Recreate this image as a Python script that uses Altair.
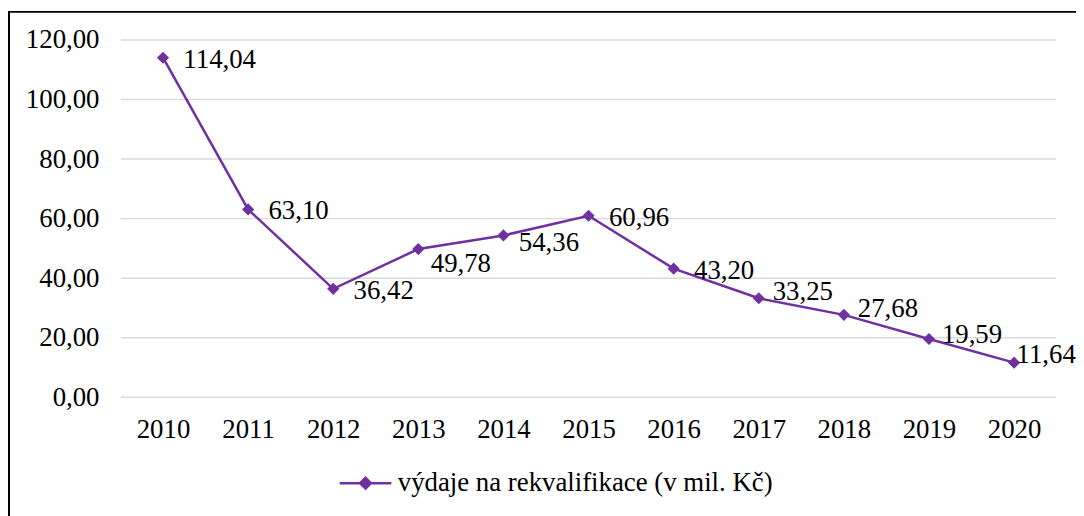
import altair as alt
import pandas as pd

# ---- data ----
years = [2010, 2011, 2012, 2013, 2014, 2015, 2016, 2017, 2018, 2019, 2020]
values = [114.04, 63.10, 36.42, 49.78, 54.36, 60.96, 43.20, 33.25, 27.68, 19.59, 11.64]
series_name = "výdaje na rekvalifikace (v mil. Kč)"
y_ticks = [0, 20, 40, 60, 80, 100, 120]

# ---- style ----
FONT = "Liberation Serif"
FS = 27
PURPLE = "#7030A0"
GRID = "#D9D9D9"

df = pd.DataFrame({"year": years, "value": values, "series": [series_name] * len(years)})
grid_df = pd.DataFrame({"tick": y_ticks})
frame_df = pd.DataFrame({"k": [0]})

x_scale = alt.Scale(domain=[2009.5, 2020.5], range=[113.3, 1056.5], nice=False, zero=False)
y_scale = alt.Scale(domain=[0, 120], range=[390.3, 30.3], nice=False, zero=False)

fmt = "replace(format(datum.value, '.2f'), '.', ',')"

x_axis = alt.Axis(values=years, format="d", title=None, domain=False, ticks=False, tickSize=0,
                  grid=False, labelPadding=0, labelBaseline="alphabetic", offset=-76.7,
                  labelFont=FONT, labelFontSize=FS, labelColor="black", labelAngle=0)
y_axis = alt.Axis(values=y_ticks, title=None, domain=False, ticks=False, tickSize=0,
                  grid=False, labelPadding=0, offset=-91.7, labelExpr=fmt,
                  labelFont=FONT, labelFontSize=FS, labelColor="black")

frame = alt.Chart(frame_df).mark_rect(fill="white", fillOpacity=0, stroke="black", strokeWidth=2).encode(
    x=alt.value(1), x2=alt.value(1200), y=alt.value(2), y2=alt.value(700)
)

grid = alt.Chart(grid_df).mark_rule(color=GRID, strokeWidth=1.5).encode(
    y=alt.Y("tick:Q", scale=y_scale, axis=y_axis),
    x=alt.value(113.7), x2=alt.value(1056),
)

base = alt.Chart(df)

legend = alt.Legend(
    title=None, orient="none", legendX=332.7, legendY=449.3, padding=0,
    symbolType="M-1,0H1M-0.21,0L0,-0.21L0.21,0L0,0.21Z", symbolSize=2704,
    symbolStrokeWidth=2.5, symbolFillColor=PURPLE, symbolStrokeColor=PURPLE,
    labelFont=FONT, labelFontSize=FS, labelColor="black", labelOffset=5, labelLimit=0,
)

line = base.mark_line(strokeWidth=2.5).encode(
    x=alt.X("year:Q", scale=x_scale, axis=x_axis),
    y=alt.Y("value:Q", scale=y_scale, axis=y_axis),
    color=alt.Color("series:N", scale=alt.Scale(range=[PURPLE]), legend=legend),
)

points = base.mark_point(shape="diamond", filled=True, size=150, color=PURPLE, opacity=1).encode(
    x=alt.X("year:Q", scale=x_scale),
    y=alt.Y("value:Q", scale=y_scale),
)

# label placement groups (years, dx, dy) mimicking the reference's label positions
label_groups = [
    ([2010, 2011, 2012, 2015, 2016], 20.5, 2),
    ([2013], 12.5, 15),
    ([2014], 15.5, 8),
    ([2017, 2018], 14, -6),
    ([2019], 13, -4),
    ([2020], 2.5, -8),
]

label_layers = []
for yrs, dx, dy in label_groups:
    label_layers.append(
        base.transform_filter(alt.FieldOneOfPredicate(field="year", oneOf=yrs))
        .transform_calculate(lbl=fmt)
        .mark_text(align="left", baseline="middle", dx=dx, dy=dy, font=FONT, fontSize=FS, color="black")
        .encode(
            x=alt.X("year:Q", scale=x_scale),
            y=alt.Y("value:Q", scale=y_scale),
            text="lbl:N",
        )
    )

chart = alt.layer(frame, grid, line, points, *label_layers).properties(
    width=1076, height=508, padding=0, background="white",
    autosize=alt.AutoSizeParams(type="none"),
).configure(font=FONT).configure_view(stroke=None)

chart.save("out.html", embed_options={"renderer": "svg", "actions": False})
